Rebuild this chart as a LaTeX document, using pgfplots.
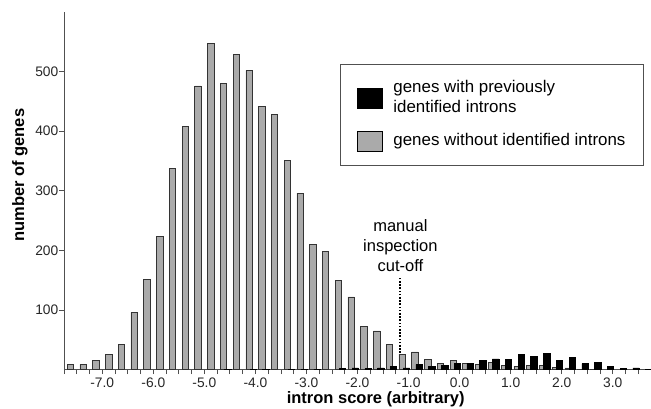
\documentclass[border=0pt]{standalone}
\usepackage{pgfplots}
\pgfplotsset{compat=1.18}
\usepackage{pgfplotstable}
\usepackage{fontspec}
\setmainfont{Liberation Sans}
\definecolor{bargray}{RGB}{170,170,170}
\definecolor{axgray}{RGB}{80,80,80}

\pgfplotstableread{
x y
-7.625 9
-7.375 9
-7.125 16
-6.875 26
-6.625 42
-6.375 96
-6.125 152
-5.875 223
-5.625 338
-5.375 408
-5.125 476
-4.875 548
-4.625 480
-4.375 529
-4.125 502
-3.875 442
-3.625 428
-3.375 351
-3.125 296
-2.875 210
-2.625 198
-2.375 150
-2.125 122
-1.875 72
-1.625 65
-1.375 43
-1.125 26
-0.875 30
-0.625 17
-0.375 10
-0.125 15
0.125 11
0.375 9
0.625 12
0.875 7
1.125 6
1.375 7
1.625 7
1.875 4
2.125 3
2.375 1
2.625 1
}\withoutdata

\pgfplotstableread{
x y
-4.543 1
-4.043 1
-3.793 1
-3.293 1
-3.043 1
-2.793 1
-2.293 2
-2.043 3
-1.793 2
-1.543 3
-1.293 5
-1.043 3
-0.793 9
-0.543 6
-0.293 7
-0.043 10
0.207 10
0.457 16
0.707 18
0.957 17
1.207 25
1.457 22
1.707 28
1.957 16
2.207 20
2.457 10
2.707 12
2.957 6
3.207 2
3.457 3
3.707 1
}\withdata

\begin{document}
\begin{tikzpicture}
\begin{axis}[
  at={(0,0)}, anchor=south west,
  scale only axis, width=587pt, height=357.7pt,
  xmin=-7.75, xmax=3.75, ymin=0, ymax=600,
  axis x line=bottom, axis y line=left,
  axis line style={-, line width=0.9pt, draw=axgray},
  tick style={line width=0.8pt, draw=axgray},
  tick align=outside,
  major tick length=4.5pt, minor tick length=4.5pt,
  xtick={-7,-6,-5,-4,-3,-2,-1,0,1,2,3},
  xticklabels={-7.0,-6.0,-5.0,-4.0,-3.0,-2.0,-1.0,0.0,1.0,2.0,3.0},
  minor xtick={-7.75,-7.5,-7.25,-6.75,-6.5,-6.25,-5.75,-5.5,-5.25,-4.75,-4.5,-4.25,-3.75,-3.5,-3.25,-2.75,-2.5,-2.25,-1.75,-1.5,-1.25,-0.75,-0.5,-0.25,0.25,0.5,0.75,1.25,1.5,1.75,2.25,2.5,2.75,3.25,3.5},
  ytick={100,200,300,400,500},
  /pgf/number format/assume math mode=true,
  tick label style={font=\fontsize{13.8}{16}\selectfont, text=black!85},
  yticklabel style={inner xsep=1pt},
  xticklabel style={inner ysep=2pt, yshift=-1pt},
  xlabel={intron score (arbitrary)},
  xlabel style={at={(rel axis cs:0.531,0)}, anchor=base, yshift=-33.3pt, font=\fontsize{16.5}{20}\selectfont\bfseries},
  ylabel={number of genes},
  every axis y label/.style={at={(rel axis cs:0,0.544)}, anchor=center, xshift=-44pt, rotate=90, font=\fontsize{16.5}{20}\selectfont\bfseries},
  legend image code/.code={\draw[#1, draw=black, line width=0.9pt] (0pt,-11pt) rectangle (25pt,9pt);},
  reverse legend,
  legend cell align=left,
  legend style={at={(rel axis cs:0.470,0.8546)}, anchor=north west,
    draw=axgray, line width=1.3pt, inner xsep=16pt, inner ysep=14pt,
    row sep=15pt,
    font=\fontsize{16.9}{19.5}\selectfont,
    cells={align=left},
    /tikz/every odd column/.append style={column sep=9pt}},
]
\addplot[ybar, bar width=0.125, bar shift=0pt, fill=bargray, draw=black!80, line width=0.6pt] table[x=x,y=y] {\withoutdata};
\addlegendentry{genes without identified introns}
\addplot[ybar, bar width=0.125, bar shift=0pt, fill=black, draw=black, line width=0.6pt] table[x=x,y=y] {\withdata};
\addlegendentry{genes with previously\\identified introns}
\addplot[forget plot, black, line width=2pt, dash pattern=on 1.6pt off 1.6pt] coordinates {(-1.16,28) (-1.16,155)};
\node[align=center, anchor=south, inner sep=5pt, font=\fontsize{16.5}{20}\selectfont] at (axis cs:-1.16,155) {manual\\inspection\\cut-off};
\end{axis}
\pgfresetboundingbox
\path[use as bounding box] (-64pt,-38.3pt) rectangle (587pt,369.7pt);
\end{tikzpicture}
\end{document}
